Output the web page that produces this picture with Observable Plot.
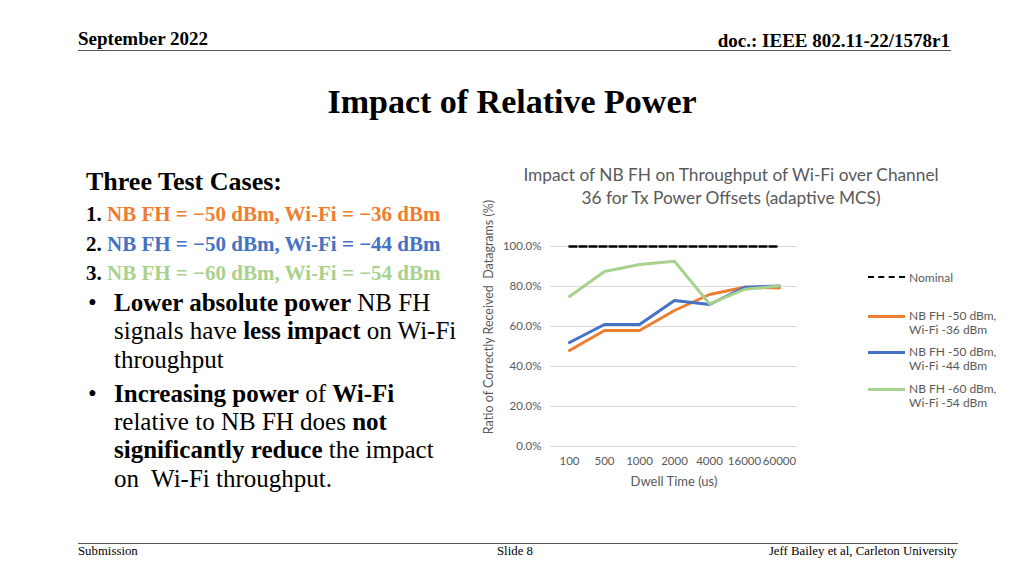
<!DOCTYPE html>
<html><head><meta charset="utf-8">
<script src="https://cdn.jsdelivr.net/npm/d3@7"></script>
<script src="https://cdn.jsdelivr.net/npm/@observablehq/plot@0.6"></script>
<style>
body{margin:0;background:#fff;}
#page{position:relative;width:1024px;height:576px;overflow:hidden;background:#fff;font-family:"Liberation Serif","Times New Roman",serif;color:#000;}
.abs{position:absolute;white-space:nowrap;}
.rule{position:absolute;height:0;border-top:1.5px solid #555;}
.or{color:#ED7D31}.bl{color:#4472C4}.gr{color:#A9D18E}
.sans{font-family:Lato,"Open Sans",sans-serif;color:#595959;}
.sw{position:absolute;width:37px;height:0;}
</style></head>
<body><div id="page">
<div class="abs" style="left:78px;top:28px;font-size:19px;font-weight:bold;">September 2022</div>
<div class="abs" style="right:74px;top:30px;font-size:19px;font-weight:bold;">doc.: IEEE 802.11-22/1578r1</div>
<div class="rule" style="left:78px;top:50px;width:873px;"></div>
<div class="abs" style="left:0;width:1024px;text-align:center;top:83px;font-size:34px;font-weight:bold;">Impact of Relative Power</div>

<div class="abs" style="left:86px;top:167px;font-size:26px;font-weight:bold;">Three Test Cases:</div>
<div class="abs" style="left:86px;top:202px;font-size:21px;font-weight:bold;">1. <span class="or">NB FH = −50 dBm, Wi-Fi = −36 dBm</span></div>
<div class="abs" style="left:86px;top:232px;font-size:21px;font-weight:bold;">2. <span class="bl">NB FH = −50 dBm, Wi-Fi = −44 dBm</span></div>
<div class="abs" style="left:86px;top:261px;font-size:21px;font-weight:bold;">3. <span class="gr">NB FH = −60 dBm, Wi-Fi = −54 dBm</span></div>
<div class="abs" style="left:86px;top:289px;font-size:25px;line-height:28.3px;">
<div style="position:relative;padding-left:28px;"><span style="position:absolute;left:2px;">•</span><b>Lower absolute power</b> NB FH<br>signals have <b>less impact</b> on Wi-Fi<br>throughput</div>
<div style="position:relative;padding-left:28px;margin-top:6px;"><span style="position:absolute;left:2px;">•</span><b>Increasing power</b> of <b>Wi-Fi</b><br>relative to NB FH does <b>not</b><br><b>significantly reduce</b> the impact<br>on&nbsp; Wi-Fi throughput.</div>
</div>

<div class="abs sans" style="left:481px;width:500px;text-align:center;top:163px;font-size:17.3px;line-height:23px;">Impact of NB FH on Throughput of Wi-Fi over Channel<br>36 for Tx Power Offsets (adaptive MCS)</div>

<div id="chart" style="position:absolute;left:470px;top:236px;"></div>
<div class="abs sans" style="left:488px;top:317px;font-size:12.5px;transform:translate(-50%,-50%) rotate(-90deg);">Ratio of Correctly Received&nbsp; Datagrams (%)</div>

<div class="sw" style="left:868px;top:276px;border-top:2.5px dashed #000;"></div>
<div class="abs sans" style="left:909px;top:270px;font-size:12px;">Nominal</div>
<div class="sw" style="left:868px;top:315px;border-top:3px solid #ED7D31;"></div>
<div class="abs sans" style="left:909px;top:309px;font-size:12px;line-height:14px;">NB FH -50 dBm,<br>Wi-Fi -36 dBm</div>
<div class="sw" style="left:868px;top:351px;border-top:3px solid #4472C4;"></div>
<div class="abs sans" style="left:909px;top:345px;font-size:12px;line-height:14px;">NB FH -50 dBm,<br>Wi-Fi -44 dBm</div>
<div class="sw" style="left:868px;top:388px;border-top:3px solid #A9D18E;"></div>
<div class="abs sans" style="left:909px;top:382px;font-size:12px;line-height:14px;">NB FH -60 dBm,<br>Wi-Fi -54 dBm</div>

<div class="rule" style="left:78px;top:543px;width:880px;"></div>
<div class="abs" style="left:78px;top:544px;font-size:12.8px;">Submission</div>
<div class="abs" style="left:497px;top:544px;font-size:12.8px;">Slide 8</div>
<div class="abs" style="right:67px;top:544px;font-size:12.8px;">Jeff Bailey et al, Carleton University</div>
</div>
<script>
const dwell = ["100","500","1000","2000","4000","16000","60000"];
const nominal = [100,100,100,100,100,100,100];
const case1 = [48,58,58,68,76,79.6,79.3];
const case2 = [52,61,61,73,71,79.6,80.3];
const case3 = [75,87.5,91,92.6,71.3,78.6,80.3];
const yTicks = [0,20,40,60,80,100];
const seriesNames = ["NB FH -50 dBm, Wi-Fi -36 dBm","NB FH -50 dBm, Wi-Fi -44 dBm","NB FH -60 dBm, Wi-Fi -54 dBm"];
const seriesColors = ["#ED7D31","#4472C4","#A9D18E"];

const rows = [];
[case1,case2,case3].forEach((arr,i)=>arr.forEach((v,j)=>rows.push({series:seriesNames[i],dwell:dwell[j],value:v})));
const nomRows = nominal.map((v,j)=>({dwell:dwell[j],value:v}));

const chart = Plot.plot({
  width:340, height:256,
  marginLeft:80, marginRight:13, marginTop:10, marginBottom:46,
  style:{fontFamily:"Lato, 'Open Sans', sans-serif", fontSize:"11.5px", color:"#595959", background:"transparent"},
  x:{type:"point", domain:dwell, padding:0.5},
  y:{domain:[0,100]},
  color:{domain:seriesNames, range:seriesColors},
  marks:[
    Plot.gridY(yTicks,{stroke:"#d9d9d9", strokeOpacity:1, strokeWidth:1}),
    Plot.axisY(yTicks,{tickSize:0, tickPadding:9, tickFormat:d=>d.toFixed(1)+"%", label:null}),
    Plot.axisX({tickSize:0, tickPadding:10, label:null}),
    Plot.axisX({tickSize:0, tickPadding:10, ticks:[], label:"Dwell Time (us)", labelAnchor:"center", labelArrow:"none", labelOffset:39, fontSize:13}),
    Plot.line(nomRows,{x:"dwell", y:"value", stroke:"#000", strokeWidth:2.5, strokeDasharray:"7,3"}),
    Plot.line(rows,{x:"dwell", y:"value", z:"series", stroke:"series", strokeWidth:3})
  ]
});
document.getElementById("chart").appendChild(chart);
</script>
</body></html>
